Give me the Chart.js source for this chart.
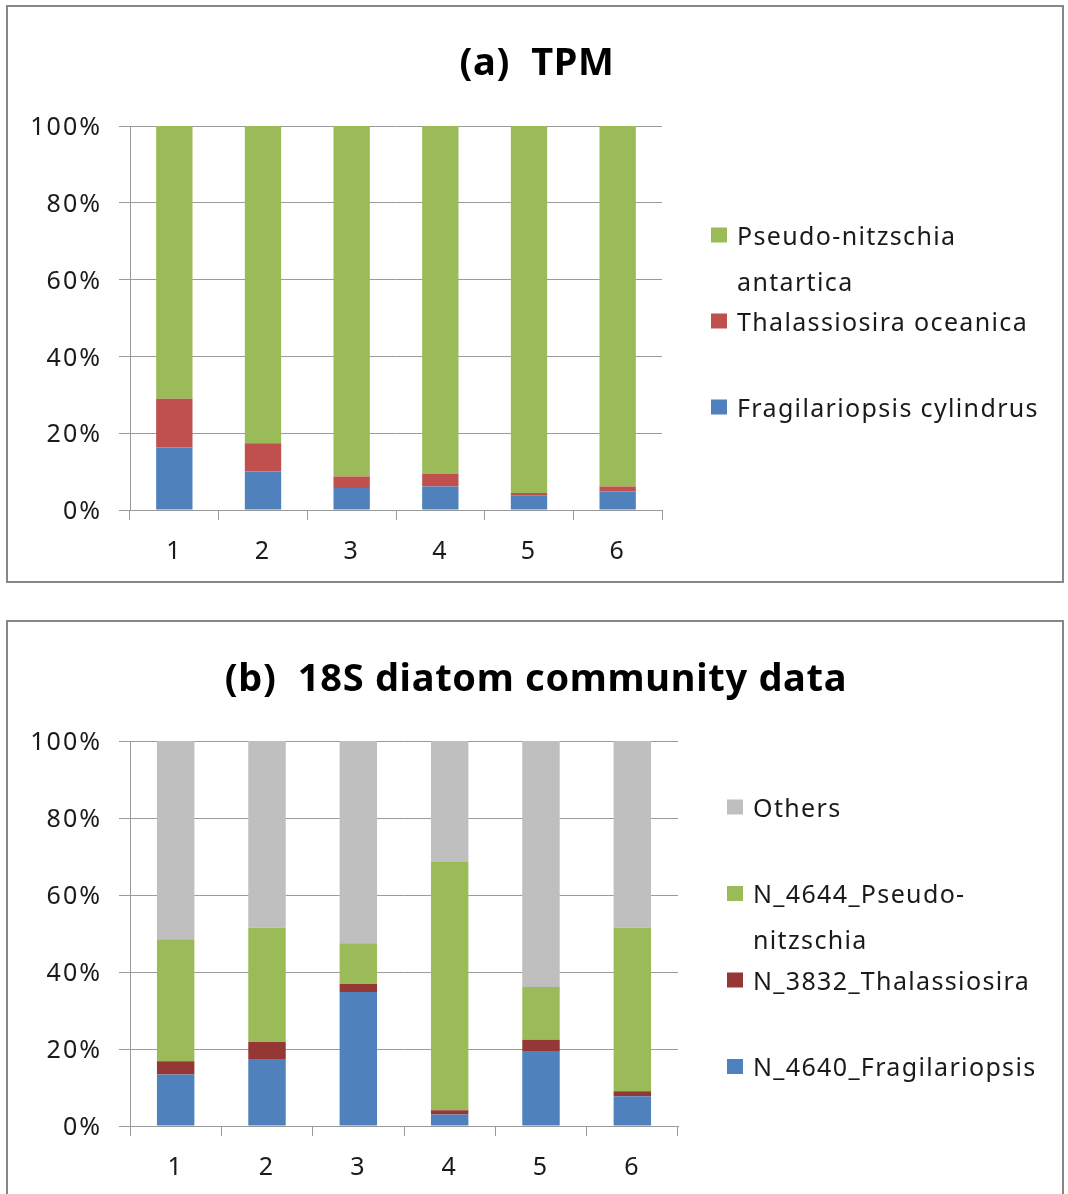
<!DOCTYPE html>
<html>
<head>
<meta charset="utf-8">
<script src="https://cdn.jsdelivr.net/npm/chart.js@4.4.1/dist/chart.umd.min.js"></script>
<style>
  html, body { margin: 0; padding: 0; background: #fff; }
  body { width: 1068px; height: 1194px; position: relative; overflow: hidden; }
  .frame { position: absolute; left: 6px; width: 1058px; border: 2px solid #878787;
           box-sizing: border-box; pointer-events: none; z-index: 2; }
  #frameA { top: 5px; height: 578px; }
  #frameB { top: 620px; height: 600px; }
  canvas { position: absolute; left: 0; }
  #tpmCanvas { top: 0; }
  #rrnaCanvas { top: 600px; }
</style>
</head>
<body>
<canvas id="tpmCanvas" width="1068" height="600"></canvas>
<canvas id="rrnaCanvas" width="1068" height="594"></canvas>
<div class="frame" id="frameA"></div>
<div class="frame" id="frameB"></div>
<script>
// Sample stations on the x axis
const samples = ['1', '2', '3', '4', '5', '6'];
const percentTicks = [0, 20, 40, 60, 80, 100];

// (a) TPM share per species (%), bottom to top
const tpmFragilariopsis   = [16.3, 10.0, 5.7, 6.1, 3.7, 4.8];
const tpmThalassiosira    = [12.7, 7.4, 3.0, 3.3, 0.7, 1.3];
const tpmPseudoNitzschia  = [71.0, 82.6, 91.3, 90.6, 95.6, 93.9];
const tpmSeriesNames = [
  ['Fragilariopsis cylindrus'],
  ['Thalassiosira oceanica'],
  ['Pseudo-nitzschia', 'antartica']
];

// (b) 18S diatom community share per OTU (%), bottom to top
const rrnaFragilariopsis  = [13.4, 17.4, 34.8, 3.0, 19.5, 7.7];
const rrnaThalassiosira   = [3.4, 4.4, 2.1, 1.1, 2.9, 1.3];
const rrnaPseudoNitzschia = [31.7, 29.7, 10.6, 64.5, 13.7, 42.5];
const rrnaOthers          = [51.5, 48.5, 52.5, 31.4, 63.9, 48.5];
const rrnaSeriesNames = [
  ['N_4640_Fragilariopsis'],
  ['N_3832_Thalassiosira'],
  ['N_4644_Pseudo-', 'nitzschia'],
  ['Others']
];

const FONT = '"Noto Sans", "Open Sans", sans-serif';
const AXIS_GRAY = '#9a9a9a';
const TEXT = '#1a1a1a';

// Slightly tracked-out lettering for the axis labels
const tracking = {
  id: 'tracking',
  beforeDraw(chart) {
    if ('letterSpacing' in chart.ctx) chart.ctx.letterSpacing = '2px';
  }
};

// Draws the panel heading and an Excel-style legend (reverse order, wrapped names)
const panelDecor = {
  id: 'panelDecor',
  afterDraw(chart, args, opts) {
    const ctx = chart.ctx;
    ctx.save();
    const canTrack = 'letterSpacing' in ctx;
    ctx.fillStyle = '#000';
    ctx.font = 'bold 38px ' + FONT;
    if (canTrack) ctx.letterSpacing = '0.7px';
    ctx.textAlign = 'center';
    ctx.textBaseline = 'middle';
    ctx.fillText(opts.title, opts.titleX, opts.titleY);

    ctx.font = '25px ' + FONT;
    if (canTrack) ctx.letterSpacing = '1.35px';
    ctx.textAlign = 'left';
    const sets = chart.data.datasets.slice().reverse();
    sets.forEach((ds, i) => {
      const y0 = opts.legendY + i * opts.legendStep;
      ctx.fillStyle = ds.backgroundColor;
      ctx.fillRect(opts.legendX, y0 - 7.5, 16, 15);
      ctx.fillStyle = TEXT;
      ds.nameLines.forEach((line, k) => {
        ctx.fillText(line, opts.legendX + 26, y0 + 2.5 + k * opts.lineStep);
      });
    });
    ctx.restore();
  }
};

function makeChart(canvasId, datasets, layoutPadding, decor) {
  return new Chart(document.getElementById(canvasId), {
    type: 'bar',
    data: { labels: samples, datasets },
    options: {
      responsive: false,
      animation: false,
      events: [],
      layout: { padding: layoutPadding },
      datasets: { bar: { categoryPercentage: 1.0, barPercentage: 0.41, borderWidth: 0 } },
      plugins: {
        legend: { display: false },
        title: { display: false },
        tooltip: { enabled: false },
        panelDecor: decor
      },
      scales: {
        x: {
          stacked: true,
          ticks: { font: { family: FONT, size: 25 }, color: TEXT, padding: 17 },
          grid: { drawOnChartArea: false, drawTicks: true, tickLength: 10,
                  color: AXIS_GRAY, lineWidth: 1, offset: true },
          border: { display: true, color: AXIS_GRAY, width: 1 },
          afterFit: s => { s.height = 60; }
        },
        y: {
          stacked: true,
          min: 0, max: 100,
          afterBuildTicks: s => { s.ticks = percentTicks.map(v => ({ value: v })); },
          ticks: { font: { family: FONT, size: 25 }, color: TEXT, padding: 17,
                   labelOffset: 2, callback: v => v + '%' },
          grid: { color: AXIS_GRAY, lineWidth: 1, tickLength: 11, drawTicks: true },
          border: { display: true, color: AXIS_GRAY, width: 1 },
          afterFit: s => { s.width = 110; }
        }
      }
    },
    plugins: [tracking, panelDecor]
  });
}

function series(values, names, color) {
  return { label: names.join(' '), nameLines: names, data: values, backgroundColor: color };
}

makeChart('tpmCanvas', [
  series(tpmFragilariopsis,  tpmSeriesNames[0], '#4f81bd'),
  series(tpmThalassiosira,   tpmSeriesNames[1], '#c0504d'),
  series(tpmPseudoNitzschia, tpmSeriesNames[2], '#9bbb59')
], { left: 20, right: 406, top: 126, bottom: 30 },
{ title: '(a)  TPM', titleX: 537, titleY: 64,
  legendX: 711, legendY: 235, legendStep: 86, lineStep: 46 });

makeChart('rrnaCanvas', [
  series(rrnaFragilariopsis,  rrnaSeriesNames[0], '#4f81bd'),
  series(rrnaThalassiosira,   rrnaSeriesNames[1], '#953735'),
  series(rrnaPseudoNitzschia, rrnaSeriesNames[2], '#9bbb59'),
  series(rrnaOthers,          rrnaSeriesNames[3], '#bfbfbf')
], { left: 20, right: 390, top: 141, bottom: 8 },
{ title: '(b)  18S diatom community data', titleX: 536, titleY: 80,
  legendX: 727, legendY: 207, legendStep: 86.5, lineStep: 46 });
</script>
</body>
</html>
